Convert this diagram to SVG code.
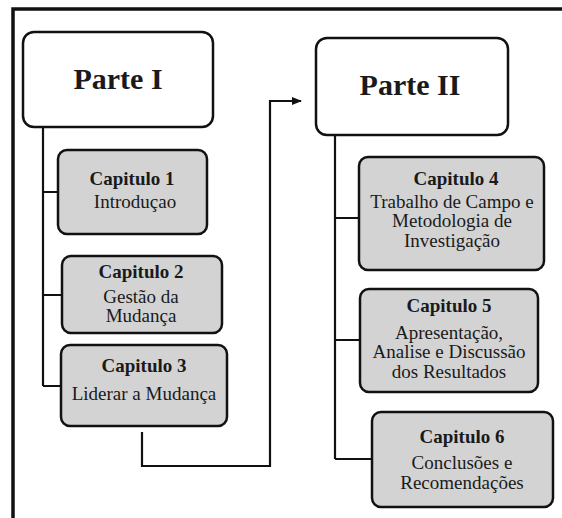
<svg xmlns="http://www.w3.org/2000/svg" width="562" height="518" viewBox="0 0 562 518">
<style>
.part{fill:#ffffff;stroke:#111;stroke-width:2.5}
.cap{fill:#d3d3d3;stroke:#111;stroke-width:2.5}
.conn{fill:none;stroke:#111;stroke-width:2.2}
text{font-family:"Liberation Serif","Times New Roman",serif;fill:#1a1a1a;text-anchor:middle}
.pt{font-size:30px;font-weight:bold}
.h{font-size:19px;font-weight:bold}
.b{font-size:19px}
</style>
<defs>
<marker id="arr" markerWidth="10" markerHeight="10" refX="9" refY="5" orient="auto" markerUnits="userSpaceOnUse">
<path d="M0,1 L10,5 L0,9 Z" fill="#111"/>
</marker>
</defs>
<g id="frame">
<path d="M13,518 L13,9 L562,9" fill="none" stroke="#111" stroke-width="3.5"/>
</g>
<g id="connectors">
<path class="conn" d="M43,127 V386 M43,192 H58 M43,295 H62 M43,386 H61"/>
<path class="conn" d="M335,135 V459 M335,218 H359 M335,340 H360 M335,459 H372"/>
<path class="conn" d="M142,432 V466 H270 V101 H301" marker-end="url(#arr)"/>
</g>
<g id="parte1">
<rect class="part" x="23" y="32" width="190" height="95" rx="11"/>
<text class="pt" x="118" y="89">Parte I</text>
</g>
<g id="cap1">
<rect class="cap" x="58" y="150" width="149" height="84" rx="9"/>
<text class="h" x="132" y="185">Capitulo 1</text>
<text class="b" x="135" y="208">Introduçao</text>
</g>
<g id="cap2">
<rect class="cap" x="62" y="256" width="160" height="77" rx="9"/>
<text class="h" x="141" y="278">Capitulo 2</text>
<text class="b" x="141" y="303">Gestão da</text>
<text class="b" x="141" y="322">Mudança</text>
</g>
<g id="cap3">
<rect class="cap" x="61" y="345" width="166" height="81" rx="9"/>
<text class="h" x="144" y="372">Capitulo 3</text>
<text class="b" x="144" y="400">Liderar a Mudança</text>
</g>
<g id="parte2">
<rect class="part" x="316" y="38" width="192" height="97" rx="11"/>
<text class="pt" x="410" y="95">Parte II</text>
</g>
<g id="cap4">
<rect class="cap" x="359" y="157" width="185" height="113" rx="9"/>
<text class="h" x="456" y="185">Capitulo 4</text>
<text class="b" x="452" y="208">Trabalho de Campo e</text>
<text class="b" x="452" y="227">Metodologia de</text>
<text class="b" x="452" y="247">Investigação</text>
</g>
<g id="cap5">
<rect class="cap" x="360" y="289" width="178" height="103" rx="9"/>
<text class="h" x="449" y="312">Capitulo 5</text>
<text class="b" x="449" y="339">Apresentação,</text>
<text class="b" x="449" y="358">Analise e Discussão</text>
<text class="b" x="449" y="378">dos Resultados</text>
</g>
<g id="cap6">
<rect class="cap" x="372" y="412" width="181" height="95" rx="9"/>
<text class="h" x="462" y="443">Capitulo 6</text>
<text class="b" x="462" y="469">Conclusões e</text>
<text class="b" x="462" y="489">Recomendações</text>
</g>
</svg>
